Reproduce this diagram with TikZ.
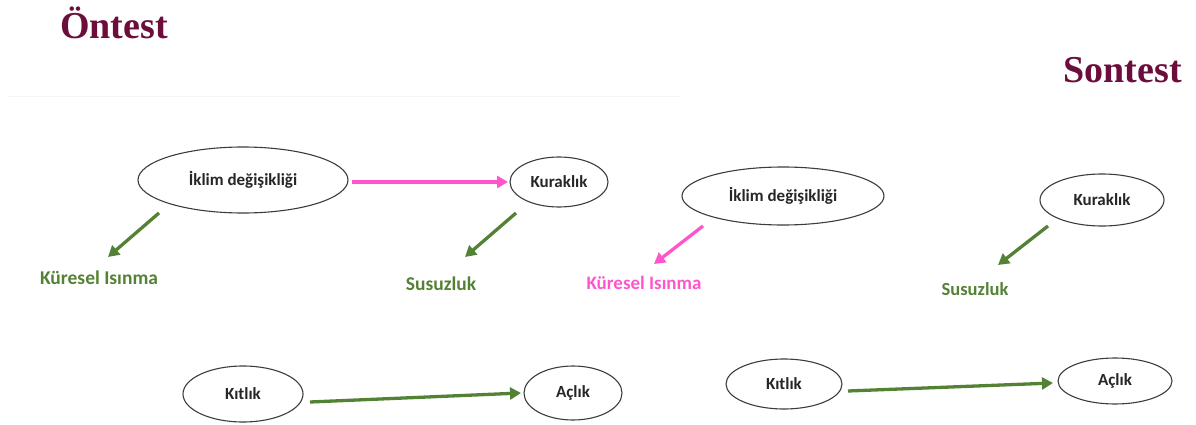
\documentclass[tikz,border=0pt]{standalone}
\usepackage{fontspec}
\setmainfont{Carlito}
\newfontfamily\titlefont{Liberation Serif}
\usetikzlibrary{shapes.geometric,arrows.meta}

\definecolor{titlered}{RGB}{108,14,60}
\definecolor{leafgreen}{RGB}{84,130,53}
\definecolor{hotpink}{RGB}{255,85,204}
\definecolor{rimgray}{RGB}{60,60,60}

\tikzset{
  oval/.style={ellipse, draw=rimgray, line width=1.1pt, inner sep=0pt,
    font=\bfseries\fontsize{17}{20}\selectfont, text=black!85},
  heading/.style={font=\titlefont\bfseries\fontsize{38}{40}\selectfont,
    text=titlered, inner sep=0pt},
  outcome/.style={font=\bfseries\fontsize{19.5}{22}\selectfont, inner sep=0pt},
  greenarrow/.style={draw=leafgreen, line width=3.3pt,
    -{Triangle[length=11pt,width=12pt]}},
  pinkarrow/.style={draw=hotpink, line width=3.3pt,
    -{Triangle[length=11pt,width=12pt]}},
}

\begin{document}
\begin{tikzpicture}[x=1pt,y=-1pt]
  \useasboundingbox (0,0) rectangle (1196,425);

  % titles
  \node[heading, anchor=base west] (pre) at (60,39) {Öntest};
  \node[heading, anchor=base east] (post) at (1182,83) {Sontest};

  % faint rule under the first title
  \draw[black!4, line width=1pt] (7,97) -- (680,97);

  % ---- before ----
  \node[oval, minimum width=210pt, minimum height=66pt] (ikA) at (243,180) {İklim değişikliği};
  \node[oval, minimum width=98pt, minimum height=50pt] (kurA) at (559,182) {Kuraklık};
  \node[oval, minimum width=120pt, minimum height=56pt] (kitA) at (243,394) {Kıtlık};
  \node[oval, minimum width=98pt, minimum height=54pt] (aclA) at (573,393) {Açlık};
  \node[outcome, text=leafgreen] (kurelA) at (99,278) {Küresel Isınma};
  \node[outcome, text=leafgreen] (susA) at (441,284) {Susuzluk};

  \coordinate (pA1) at (352,182);  \coordinate (pA2) at (508,182);
  \coordinate (gA1) at (159,213);  \coordinate (gA2) at (108,257);
  \coordinate (gA3) at (516,213);  \coordinate (gA4) at (465,257);
  \coordinate (gA5) at (310,402);  \coordinate (gA6) at (521,393);

  \draw[pinkarrow] (pA1) -- (pA2);
  \draw[greenarrow] (gA1) -- (gA2);
  \draw[greenarrow] (gA3) -- (gA4);
  \draw[greenarrow] (gA5) -- (gA6);

  % ---- after ----
  \node[oval, minimum width=202pt, minimum height=58pt] (ikB) at (783,196) {İklim değişikliği};
  \node[oval, minimum width=124pt, minimum height=52pt] (kurB) at (1102,200) {Kuraklık};
  \node[oval, minimum width=116pt, minimum height=50pt] (kitB) at (784,384) {Kıtlık};
  \node[oval, minimum width=114pt, minimum height=46pt] (aclB) at (1115,381) {Açlık};
  \node[outcome, text=hotpink, font=\bfseries\fontsize{19}{22}\selectfont] (kurelB) at (644,283) {Küresel Isınma};
  \node[outcome, text=leafgreen, font=\bfseries\fontsize{18.5}{22}\selectfont] (susB) at (975,289) {Susuzluk};

  \coordinate (pB1) at (703,226);  \coordinate (pB2) at (654,264);
  \coordinate (gB1) at (1048,226); \coordinate (gB2) at (998,265);
  \coordinate (gB3) at (848,391);  \coordinate (gB4) at (1053,383);

  \draw[pinkarrow] (pB1) -- (pB2);
  \draw[greenarrow] (gB1) -- (gB2);
  \draw[greenarrow] (gB3) -- (gB4);
\end{tikzpicture}
\end{document}
